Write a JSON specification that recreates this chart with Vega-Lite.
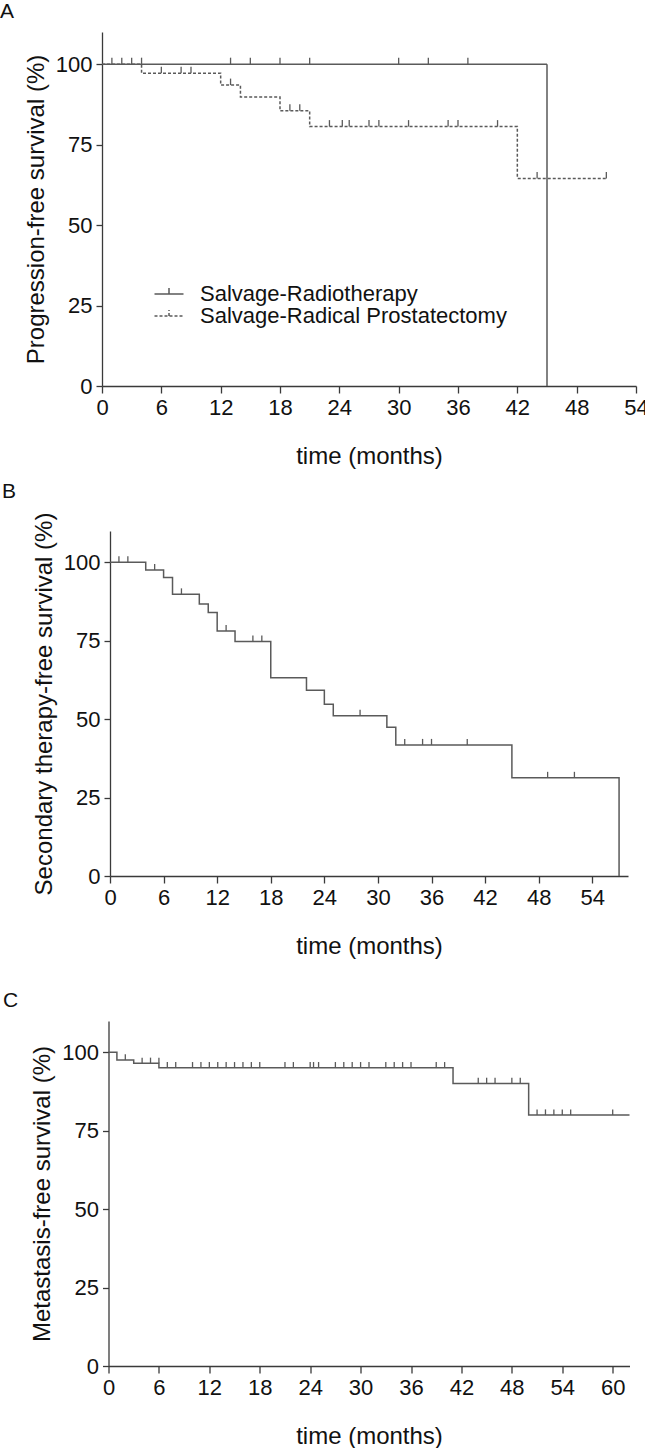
{
  "$schema": "https://vega.github.io/schema/vega-lite/v6.json",
  "padding": {"left": 0, "top": 0, "right": 0, "bottom": 0},
  "background": "white",
  "bounds": "flush",
  "center": true,
  "spacing": 145,
  "config": {
    "view": {"stroke": null},
    "font": "Liberation Sans",
    "axis": {
      "grid": false,
      "domainColor": "#3a3a3a",
      "tickColor": "#3a3a3a",
      "domainWidth": 1.3,
      "tickWidth": 1.3,
      "labelColor": "#111111",
      "titleColor": "#111111",
      "labelFont": "Liberation Sans",
      "titleFont": "Liberation Sans",
      "labelFontSize": 22,
      "titleFontSize": 24,
      "titleFontWeight": "normal",
      "labelBound": false
    },
    "axisY": {"tickSize": 6, "labelPadding": 4, "titlePadding": 7},
    "axisX": {"labelPadding": 4, "titlePadding": 26, "labelOverlap": false, "labelFlush": false},
    "legend": {"labelFont": "Liberation Sans", "labelFontSize": 22, "labelColor": "#111111", "labelLimit": 500},
    "title": {"fontSize": 21, "fontWeight": "normal", "font": "Liberation Sans", "color": "#111111", "anchor": "start", "frame": "group"},
    "style": {"group-title": {"fontSize": 21, "fontWeight": "normal", "font": "Liberation Sans"}}
  },
  "datasets": {
    "a_steps": [
      {"t": 0, "s": 100, "g": "Salvage-Radiotherapy"},
      {"t": 45, "s": 0, "g": "Salvage-Radiotherapy"},
      {"t": 0, "s": 100, "g": "Salvage-Radical Prostatectomy"},
      {"t": 4, "s": 97.2, "g": "Salvage-Radical Prostatectomy"},
      {"t": 12, "s": 93.5, "g": "Salvage-Radical Prostatectomy"},
      {"t": 14, "s": 89.8, "g": "Salvage-Radical Prostatectomy"},
      {"t": 18, "s": 85.5, "g": "Salvage-Radical Prostatectomy"},
      {"t": 21, "s": 80.6, "g": "Salvage-Radical Prostatectomy"},
      {"t": 42, "s": 64.5, "g": "Salvage-Radical Prostatectomy"},
      {"t": 51, "s": 64.5, "g": "Salvage-Radical Prostatectomy"}
    ],
    "a_cens": [
      {"t": 1, "s": 100}, {"t": 2, "s": 100}, {"t": 3, "s": 100}, {"t": 4, "s": 100},
      {"t": 13, "s": 100}, {"t": 15, "s": 100}, {"t": 18, "s": 100}, {"t": 21, "s": 100},
      {"t": 30, "s": 100}, {"t": 33, "s": 100}, {"t": 37, "s": 100},
      {"t": 6, "s": 97.2}, {"t": 8, "s": 97.2}, {"t": 9, "s": 97.2},
      {"t": 13, "s": 93.5},
      {"t": 19, "s": 85.5}, {"t": 20, "s": 85.5},
      {"t": 23, "s": 80.6}, {"t": 24.3, "s": 80.6}, {"t": 25, "s": 80.6}, {"t": 27, "s": 80.6},
      {"t": 28, "s": 80.6}, {"t": 31, "s": 80.6}, {"t": 35, "s": 80.6}, {"t": 36, "s": 80.6},
      {"t": 40, "s": 80.6},
      {"t": 44, "s": 64.5}, {"t": 51, "s": 64.5}
    ],
    "b_steps": [
      {"t": 0, "s": 100}, {"t": 4, "s": 97.6}, {"t": 6, "s": 95.2}, {"t": 7, "s": 89.8},
      {"t": 10, "s": 86.7}, {"t": 11, "s": 84.0}, {"t": 12, "s": 78.1}, {"t": 14, "s": 74.8},
      {"t": 18, "s": 63.2}, {"t": 22, "s": 59.2}, {"t": 24, "s": 54.8}, {"t": 25, "s": 51.1},
      {"t": 31, "s": 47.4}, {"t": 32, "s": 41.8}, {"t": 45, "s": 31.3}, {"t": 57, "s": 0}
    ],
    "b_cens": [
      {"t": 1, "s": 100}, {"t": 2, "s": 100}, {"t": 5, "s": 97.6}, {"t": 8, "s": 89.8},
      {"t": 13, "s": 78.1}, {"t": 16, "s": 74.8}, {"t": 17, "s": 74.8}, {"t": 28, "s": 51.1},
      {"t": 33, "s": 41.8}, {"t": 35, "s": 41.8}, {"t": 36, "s": 41.8}, {"t": 40, "s": 41.8},
      {"t": 49, "s": 31.3}, {"t": 52, "s": 31.3}
    ],
    "c_steps": [
      {"t": 0, "s": 100}, {"t": 1, "s": 97.6}, {"t": 3, "s": 96.5}, {"t": 6, "s": 95.1},
      {"t": 41, "s": 90.1}, {"t": 50, "s": 80.0}, {"t": 62, "s": 80.0}
    ],
    "c_cens": [
      {"t": 2, "s": 97.6},
      {"t": 4, "s": 96.5}, {"t": 5, "s": 96.5}, {"t": 6, "s": 96.5},
      {"t": 7, "s": 95.1}, {"t": 8, "s": 95.1}, {"t": 10, "s": 95.1}, {"t": 11, "s": 95.1},
      {"t": 12, "s": 95.1}, {"t": 13, "s": 95.1}, {"t": 14, "s": 95.1}, {"t": 15, "s": 95.1},
      {"t": 16, "s": 95.1}, {"t": 17, "s": 95.1}, {"t": 18, "s": 95.1}, {"t": 21, "s": 95.1},
      {"t": 22, "s": 95.1}, {"t": 24, "s": 95.1}, {"t": 24.4, "s": 95.1}, {"t": 25, "s": 95.1},
      {"t": 27, "s": 95.1}, {"t": 28, "s": 95.1}, {"t": 29, "s": 95.1}, {"t": 30, "s": 95.1},
      {"t": 31, "s": 95.1}, {"t": 33, "s": 95.1}, {"t": 34, "s": 95.1}, {"t": 35, "s": 95.1},
      {"t": 36, "s": 95.1}, {"t": 39, "s": 95.1}, {"t": 40, "s": 95.1},
      {"t": 44, "s": 90.1}, {"t": 45, "s": 90.1}, {"t": 46, "s": 90.1}, {"t": 48, "s": 90.1},
      {"t": 49, "s": 90.1},
      {"t": 51, "s": 80.0}, {"t": 52, "s": 80.0}, {"t": 53, "s": 80.0}, {"t": 54, "s": 80.0},
      {"t": 55, "s": 80.0}, {"t": 60, "s": 80.0}
    ]
  },
  "vconcat": [
    {
      "width": 534,
      "height": 354,
      "title": {"text": "A", "dx": -102, "offset": 10.4, "fontSize": 21},
      "layer": [
        {
          "data": {"name": "a_steps"},
          "mark": {"type": "line", "interpolate": "step-after", "strokeWidth": 1.5, "color": "#5a5a5a"},
          "encoding": {
            "x": {
              "field": "t", "type": "quantitative", "title": "time (months)",
              "scale": {"domain": [0, 54], "nice": false},
              "axis": {
                "values": [0, 3, 6, 9, 12, 15, 18, 21, 24, 27, 30, 33, 36, 39, 42, 45, 48, 51, 54],
                "labelExpr": "datum.value % 6 === 0 ? datum.label : ''",
                "tickSize": {"condition": {"test": "datum.value % 6 === 0", "value": 7}, "value": 4.5}
              }
            },
            "y": {
              "field": "s", "type": "quantitative", "title": "Progression-free survival (%)",
              "scale": {"domain": [0, 110], "nice": false},
              "axis": {"values": [0, 25, 50, 75, 100]}
            },
            "strokeDash": {
              "field": "g", "type": "nominal",
              "scale": {"domain": ["Salvage-Radiotherapy", "Salvage-Radical Prostatectomy"], "range": [[1, 0], [3, 2]]},
              "legend": {
                "orient": "none", "legendX": 56, "legendY": 251, "title": null,
                "symbolType": "M-1.45,0H1.45M0,0V-0.6", "symbolSize": 400,
                "symbolStrokeWidth": 1.5, "symbolStrokeColor": "#5a5a5a", "symbolFillColor": "transparent",
                "labelOffset": 20, "rowPadding": -2, "padding": 0, "labelLimit": 500
              }
            }
          }
        },
        {
          "data": {"name": "a_cens"},
          "mark": {"type": "point", "shape": "M0,0V-1", "size": 169, "filled": false, "color": "#5a5a5a", "strokeWidth": 1.3, "opacity": 1},
          "encoding": {
            "x": {"field": "t", "type": "quantitative", "title": "time (months)"},
            "y": {"field": "s", "type": "quantitative", "title": "Progression-free survival (%)"}
          }
        }
      ]
    },
    {
      "width": 518,
      "height": 345,
      "title": {"text": "B", "dx": -108, "offset": 10.4, "fontSize": 21},
      "layer": [
        {
          "data": {"name": "b_steps"},
          "mark": {"type": "line", "interpolate": "step-after", "strokeWidth": 1.5, "color": "#5a5a5a"},
          "encoding": {
            "x": {
              "field": "t", "type": "quantitative", "title": "time (months)",
              "scale": {"domain": [0, 58], "nice": false},
              "axis": {
                "values": [0, 3, 6, 9, 12, 15, 18, 21, 24, 27, 30, 33, 36, 39, 42, 45, 48, 51, 54, 57],
                "labelExpr": "datum.value % 6 === 0 ? datum.label : ''",
                "tickSize": {"condition": {"test": "datum.value % 6 === 0", "value": 7}, "value": 4.5}
              }
            },
            "y": {
              "field": "s", "type": "quantitative", "title": "Secondary therapy-free survival (%)",
              "scale": {"domain": [0, 110], "nice": false},
              "axis": {"values": [0, 25, 50, 75, 100]}
            }
          }
        },
        {
          "data": {"name": "b_cens"},
          "mark": {"type": "point", "shape": "M0,0V-1", "size": 144, "filled": false, "color": "#5a5a5a", "strokeWidth": 1.3, "opacity": 1},
          "encoding": {
            "x": {"field": "t", "type": "quantitative", "title": "time (months)"},
            "y": {"field": "s", "type": "quantitative", "title": "Secondary therapy-free survival (%)"}
          }
        },
        {
          "mark": {"type": "text", "text": "Active surveillance group", "align": "left", "baseline": "middle", "fontSize": 21, "font": "Liberation Sans", "color": "#111111"},
          "encoding": {
            "x": {"datum": 27.6, "type": "quantitative"},
            "y": {"datum": 101, "type": "quantitative"}
          }
        }
      ]
    },
    {
      "width": 521,
      "height": 345,
      "title": {"text": "C", "dx": -105.5, "offset": 10.4, "fontSize": 21},
      "layer": [
        {
          "data": {"name": "c_steps"},
          "mark": {"type": "line", "interpolate": "step-after", "strokeWidth": 1.5, "color": "#5a5a5a"},
          "encoding": {
            "x": {
              "field": "t", "type": "quantitative", "title": "time (months)",
              "scale": {"domain": [0, 62], "nice": false},
              "axis": {
                "values": [0, 3, 6, 9, 12, 15, 18, 21, 24, 27, 30, 33, 36, 39, 42, 45, 48, 51, 54, 57, 60],
                "labelExpr": "datum.value % 6 === 0 ? datum.label : ''",
                "tickSize": {"condition": {"test": "datum.value % 6 === 0", "value": 7}, "value": 4.5}
              }
            },
            "y": {
              "field": "s", "type": "quantitative", "title": "Metastasis-free survival (%)",
              "scale": {"domain": [0, 110], "nice": false},
              "axis": {"values": [0, 25, 50, 75, 100]}
            }
          }
        },
        {
          "data": {"name": "c_cens"},
          "mark": {"type": "point", "shape": "M0,0V-1", "size": 130, "filled": false, "color": "#5a5a5a", "strokeWidth": 1.3, "opacity": 1},
          "encoding": {
            "x": {"field": "t", "type": "quantitative", "title": "time (months)"},
            "y": {"field": "s", "type": "quantitative", "title": "Metastasis-free survival (%)"}
          }
        }
      ]
    }
  ]
}
